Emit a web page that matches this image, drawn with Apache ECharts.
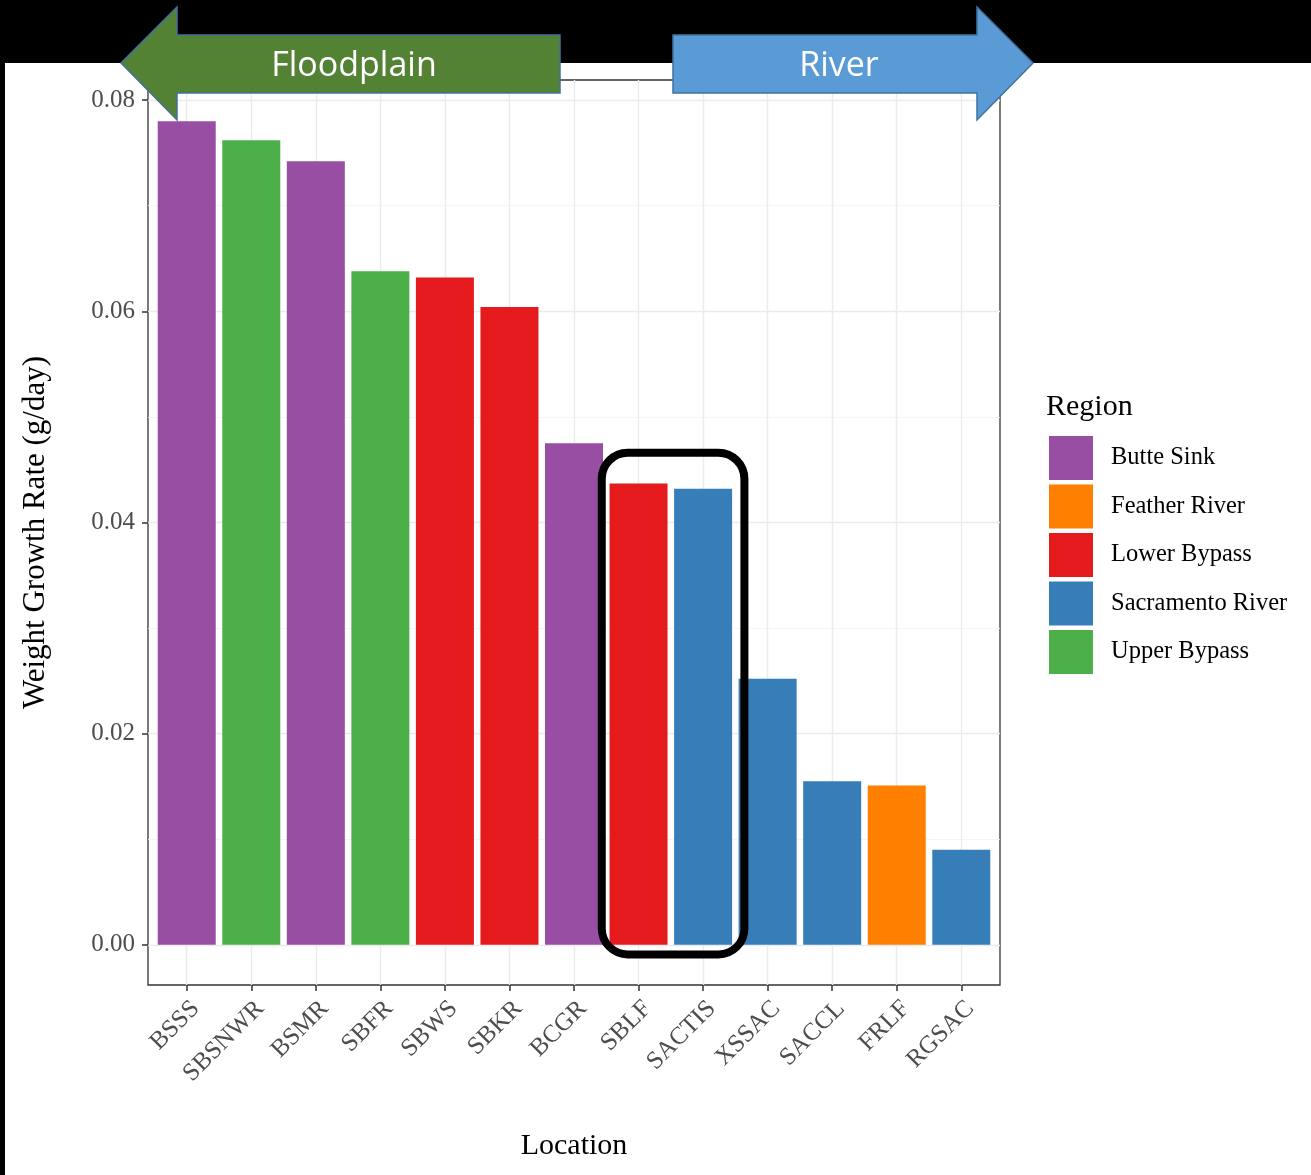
<!DOCTYPE html>
<html>
<head>
<meta charset="utf-8">
<script src="https://cdn.jsdelivr.net/npm/echarts@6/dist/echarts.min.js"></script>
<style>
html,body{margin:0;padding:0;background:#000;}
#wrap{position:relative;width:1311px;height:1175px;background:#000;}
#white{position:absolute;left:5px;top:63px;width:1306px;height:1112px;background:#fff;}
#chart{position:absolute;left:0;top:0;width:1311px;height:1175px;}
</style>
</head>
<body>
<div id="wrap"><div id="white"></div><div id="chart"></div></div>
<script>
// ---- data ----
const locations = ['BSSS','SBSNWR','BSMR','SBFR','SBWS','SBKR','BCGR','SBLF','SACTIS','XSSAC','SACCL','FRLF','RGSAC'];
const growthRates = [0.0780,0.0762,0.0742,0.0638,0.0632,0.0604,0.0475,0.0437,0.0432,0.0252,0.0155,0.0151,0.0090];
const locationRegions = ['Butte Sink','Upper Bypass','Butte Sink','Upper Bypass','Lower Bypass','Lower Bypass','Butte Sink','Lower Bypass','Sacramento River','Sacramento River','Sacramento River','Feather River','Sacramento River'];
const regions = ['Butte Sink','Feather River','Lower Bypass','Sacramento River','Upper Bypass'];
const regionColors = ['#984EA3','#FF7F00','#E41A1C','#377EB8','#4DAF4A'];
const yMajorTicks = [0,0.02,0.04,0.06,0.08];
const yMinorTicks = [0.01,0.03,0.05,0.07];
const highlighted = ['SBLF','SACTIS'];

const chart = echarts.init(document.getElementById('chart'), null, {renderer:'canvas'});
const serif = '"Liberation Serif","Times New Roman",serif';
const xIdx = locations.map((_, i) => i);

const series = regions.map((r, k) => ({
  name: r,
  type: 'bar',
  barWidth: 58,
  barGap: '-100%',
  itemStyle: {color: regionColors[k]},
  data: locations.map((l, i) => locationRegions[i] === r ? [i, growthRates[i]] : null).filter(d => d),
  z: 3
}));

const option = {
  animation: false,
  backgroundColor: 'transparent',
  grid: {left:148, right:311, top:80, bottom:190, show:true, borderColor:'#333333', borderWidth:1.3, backgroundColor:'transparent'},
  xAxis: {
    type:'value', min:-0.6, max:12.6,
    name:'Location', nameLocation:'middle', nameGap:146,
    nameTextStyle:{fontFamily:serif, fontSize:30, color:'#000'},
    axisLine:{show:false, onZero:false},
    axisTick:{show:true, length:6, customValues:xIdx, lineStyle:{color:'#333333', width:1.5}},
    axisLabel:{customValues:xIdx, rotate:45, margin:11, align:'right', verticalAlign:'top',
      fontFamily:serif, fontSize:25, color:'#4d4d4d',
      formatter: v => locations[Math.round(v)]},
    splitLine:{show:true, lineStyle:{color:'#ebebeb', width:1.4}}
  },
  yAxis: [{
    type:'value', min:-0.0038, max:0.0819,
    name:'Weight Growth Rate (g/day)', nameLocation:'middle', nameGap:97, nameRotate:90,
    nameTextStyle:{fontFamily:serif, fontSize:31, color:'#000'},
    axisLine:{show:false, onZero:false},
    axisTick:{show:true, length:6, customValues:yMajorTicks, lineStyle:{color:'#333333', width:1.5}},
    axisLabel:{customValues:yMajorTicks, margin:13, fontFamily:serif, fontSize:25, color:'#4d4d4d',
      formatter: v => v.toFixed(2)},
    splitLine:{show:true, lineStyle:{color:'#ebebeb', width:1.4}}
  },{
    type:'value', min:-0.0038, max:0.0819, position:'left',
    axisLine:{show:false, onZero:false},
    axisTick:{show:false, customValues:yMinorTicks},
    axisLabel:{show:false, customValues:yMinorTicks},
    splitLine:{show:true, lineStyle:{color:'#f2f2f2', width:0.8}}
  }],
  legend: {
    orient:'vertical', left:1049, top:436, itemWidth:44, itemHeight:44, itemGap:4.5,
    icon:'rect', padding:0,
    textStyle:{fontFamily:serif, fontSize:24.5, color:'#000', padding:[10,0,0,13]},
    data: regions
  },
  title: {text:'Region', left:1046, top:392, padding:0,
    textStyle:{fontFamily:serif, fontSize:30, fontWeight:'normal', color:'#000'}},
  series: series
};
chart.setOption(option);

// annotation graphics (arrows + highlight box)
const i0 = locations.indexOf(highlighted[0]);
const i1 = locations.indexOf(highlighted[1]);
const topVal = Math.max(growthRates[i0], growthRates[i1]);
const pTL = chart.convertToPixel({gridIndex:0}, [i0 - 0.57, topVal + 0.0029]);
const pBR = chart.convertToPixel({gridIndex:0}, [i1 + 0.64, -0.0009]);

chart.setOption({
  graphic: [
    {type:'rect', z:100, shape:{x:pTL[0], y:pTL[1], width:pBR[0]-pTL[0], height:pBR[1]-pTL[1], r:26},
      style:{fill:'none', stroke:'#000', lineWidth:8}},
    {type:'polygon', z:100, shape:{points:[[121,63],[177,7],[177,35],[560,35],[560,93],[177,93],[177,120]]},
      style:{fill:'#548235', stroke:'#41719C', lineWidth:1.5}},
    {type:'text', z:101, x:354, y:66, style:{text:'Floodplain', align:'center', verticalAlign:'middle',
      fill:'#fff', font:'34px "Open Sans", "Noto Sans", sans-serif'}},
    {type:'polygon', z:100, shape:{points:[[673,35],[977,35],[977,7],[1033,63],[977,120],[977,93],[673,93]]},
      style:{fill:'#5B9BD5', stroke:'#41719C', lineWidth:1.5}},
    {type:'text', z:101, x:839, y:66, style:{text:'River', align:'center', verticalAlign:'middle',
      fill:'#fff', font:'34px "Open Sans", "Noto Sans", sans-serif'}}
  ]
});
</script>
</body>
</html>
